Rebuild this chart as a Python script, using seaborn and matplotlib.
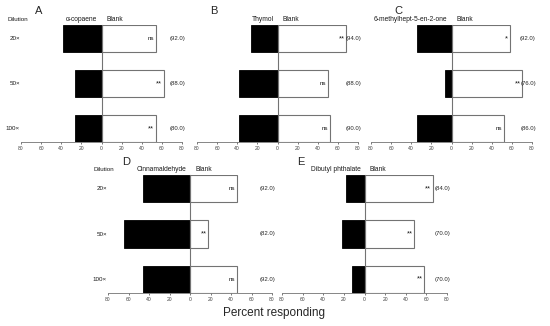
import matplotlib
matplotlib.use("Agg")
import matplotlib.pyplot as plt
import seaborn as sns
import pandas as pd

sns.set_style("white")
plt.rcParams['font.family'] = ['Liberation Sans', 'DejaVu Sans']

dilutions = ["20×", "50×", "100×"]
letters = ["A", "B", "C", "D", "E"]
compounds = ["α-copaene", "Thymol", "6-methylhept-5-en-2-one", "Cinnamaldehyde", "Dibutyl phthalate"]
treat_A = [38, 26, 26]
blank_A = [54, 62, 54]
treat_B = [26, 38, 38]
blank_B = [68, 50, 52]
treat_C = [34, 6, 34]
blank_C = [58, 70, 52]
treat_D = [46, 64, 46]
blank_D = [46, 18, 46]
treat_E = [18, 22, 12]
blank_E = [66, 48, 58]
sig_A = ["ns", "**", "**"]
sig_B = ["**", "ns", "ns"]
sig_C = ["*", "**", "ns"]
sig_D = ["ns", "**", "ns"]
sig_E = ["**", "**", "**"]
resp_A = ["(92.0)", "(88.0)", "(80.0)"]
resp_B = ["(94.0)", "(88.0)", "(90.0)"]
resp_C = ["(92.0)", "(76.0)", "(86.0)"]
resp_D = ["(92.0)", "(82.0)", "(92.0)"]
resp_E = ["(84.0)", "(70.0)", "(70.0)"]
xticks = [-80, -60, -40, -20, 0, 20, 40, 60, 80]
xticklabels = ["80", "60", "40", "20", "0", "20", "40", "60", "80"]

W, H = 550, 326
fig = plt.figure(figsize=(W / 100, H / 100), dpi=100)

# pixel boxes: (left, top, right, bottom)
boxes = [(21, 25, 182, 142), (197, 25, 358, 142), (371, 25, 532, 142),
         (108, 175, 272, 293), (282, 175, 447, 293)]
letter_off = [14, 13, 23, 14, 15]
show_dil = [True, False, False, True, False]

treats = [treat_A, treat_B, treat_C, treat_D, treat_E]
blanks = [blank_A, blank_B, blank_C, blank_D, blank_E]
sigs = [sig_A, sig_B, sig_C, sig_D, sig_E]
resps = [resp_A, resp_B, resp_C, resp_D, resp_E]

for i in range(5):
    l, t, r, b = boxes[i]
    ax = fig.add_axes([l / W, 1 - b / H, (r - l) / W, (b - t) / H])
    df = pd.DataFrame({"Dilution": dilutions,
                       "treat": [-v for v in treats[i]],
                       "blank": blanks[i]})
    sns.barplot(data=df, x="treat", y="Dilution", orient="h", color="black",
                saturation=1, width=0.6, edgecolor="black", linewidth=0.6, ax=ax)
    sns.barplot(data=df, x="blank", y="Dilution", orient="h", color="white",
                saturation=1, width=0.6, edgecolor="0.45", linewidth=0.8, ax=ax)
    ax.set_xlim(-80, 80)
    ax.set_ylim(2.3, -0.3)
    ax.set_xticks(xticks)
    ax.set_xticklabels(xticklabels)
    ax.tick_params(axis="x", labelsize=3.6, length=1.5, width=0.5, pad=1.2,
                   bottom=True, colors="0.25")
    ax.set_yticks([])
    ax.set_xlabel("")
    ax.set_ylabel("")
    for s in ["top", "right"]:
        ax.spines[s].set_visible(False)
    ax.spines["left"].set_position(("data", 0))
    ax.spines["left"].set_color("0.45")
    ax.spines["left"].set_linewidth(0.8)
    ax.spines["bottom"].set_color("0.45")
    ax.spines["bottom"].set_linewidth(0.6)
    ax.set_zorder(1)
    for j in range(3):
        ax.text(blanks[i][j] - 1.5, j, sigs[i][j], ha="right", va="center",
                fontsize=4.5 if sigs[i][j] == "ns" else 5.5, color="0.1")
        ax.text(76, j, resps[i][j], ha="center", va="center", fontsize=4.3,
                color="0.15", clip_on=False)
    # headers
    ax.text(-4, -0.34, compounds[i], ha="right", va="bottom", fontsize=4.8,
            color="0.1", clip_on=False)
    ax.text(5, -0.34, "Blank", ha="left", va="bottom", fontsize=4.8,
            color="0.1", clip_on=False)
    fig.text((l + letter_off[i]) / W, 1 - (t - 8.5) / H, letters[i],
             ha="left", va="bottom", fontsize=8)
    if show_dil[i]:
        fig.text((l - 14) / W, 1 - (t - 3) / H, "Dilution", ha="left",
                 va="bottom", fontsize=4.5, color="0.1")
        for j in range(3):
            y_px = t + (j + 0.3) * (b - t) / 2.6
            fig.text((l - 1) / W, 1 - y_px / H, dilutions[j], ha="right",
                     va="center", fontsize=4.5, color="0.1")

fig.text(274 / W, 1 - 313 / H, "Percent responding", ha="center",
         va="center", fontsize=8.5)

fig.savefig("out.png", dpi=100)
